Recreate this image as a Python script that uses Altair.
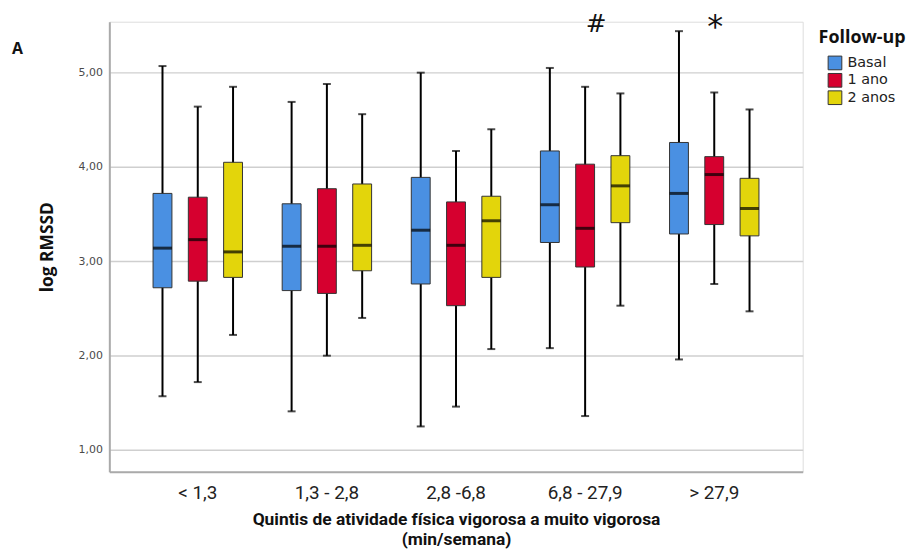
import altair as alt
import pandas as pd

cats = ["< 1,3", "1,3 - 2,8", "2,8 -6,8", "6,8 - 27,9", "> 27,9"]
fus = ["Basal", "1 ano", "2 anos"]
colors = ["#4A90E2", "#D6002F", "#E3D50B"]

# per quintile, per follow-up: [Basal, 1 ano, 2 anos]
whisk_lo = [[1.57, 1.72, 2.22], [1.41, 2.00, 2.40], [1.25, 1.46, 2.07], [2.08, 1.36, 2.53], [1.96, 2.76, 2.47]]
q1 = [[2.72, 2.79, 2.83], [2.69, 2.66, 2.90], [2.76, 2.53, 2.83], [3.20, 2.94, 3.41], [3.29, 3.39, 3.27]]
med = [[3.14, 3.23, 3.10], [3.16, 3.16, 3.17], [3.33, 3.17, 3.43], [3.60, 3.35, 3.80], [3.72, 3.92, 3.56]]
q3 = [[3.72, 3.68, 4.05], [3.61, 3.77, 3.82], [3.89, 3.63, 3.69], [4.17, 4.03, 4.12], [4.26, 4.11, 3.88]]
whisk_hi = [[5.07, 4.64, 4.85], [4.69, 4.88, 4.56], [5.00, 4.17, 4.40], [5.05, 4.85, 4.78], [5.44, 4.79, 4.61]]

hash_cat, hash_fu, hash_y = "6,8 - 27,9", "1 ano", 5.52
star_cat, star_fu, star_y = "> 27,9", "1 ano", 5.52

rows = []
for i, c in enumerate(cats):
    for j, f in enumerate(fus):
        rows.append(dict(cat=c, fu=f, lo=whisk_lo[i][j], q1=q1[i][j], med=med[i][j],
                         q3=q3[i][j], hi=whisk_hi[i][j]))
df = pd.DataFrame(rows)

lab_font = "Roboto"

xscale = alt.Scale(domain=cats, paddingInner=0, paddingOuter=0.185)
xaxis = alt.Axis(title=["Quintis de atividade física vigorosa a muito vigorosa", "(min/semana)"],
                 labelAngle=0, ticks=False, domainColor="#aaaaaa", domainWidth=2,
                 labelFont=lab_font, labelFontSize=19, labelColor="#222222", labelPadding=12,
                 titleFont=lab_font, titleFontSize=17.5, titleFontWeight="bold", titleColor="#111111",
                 titlePadding=8, titleLineHeight=20, grid=False)
x = alt.X("cat:N", sort=cats, scale=xscale, axis=xaxis)
xo_scale = alt.Scale(domain=fus, paddingInner=0, paddingOuter=0.33)
xo = alt.XOffset("fu:N", sort=fus, scale=xo_scale)

yscale = alt.Scale(domain=[0.77, 5.54], nice=False, zero=False)
yaxis = alt.Axis(title="log RMSSD", values=[1, 2, 3, 4, 5],
                 labelExpr="replace(format(datum.value, '.2f'), '.', ',')",
                 grid=True, gridColor="#cfcfcf", gridWidth=1.5, domainColor="#aaaaaa", domainWidth=2,
                 ticks=False, labelFont="DejaVu Sans", labelFontSize=11, labelColor="#4a4a4a",
                 labelPadding=7, titleFont="Open Sans", titleFontSize=17.5, titleFontWeight="bold",
                 titleColor="#111111", titlePadding=22)

def Y(field):
    return alt.Y(field, type="quantitative", scale=yscale, axis=yaxis)

base = alt.Chart(df)

whisk = base.mark_rule(color="black", strokeWidth=2).encode(x=x, xOffset=xo, y=Y("lo"), y2="hi:Q")
cap_lo = base.mark_tick(color="black", size=8, thickness=2).encode(x=x, xOffset=xo, y=Y("lo"))
cap_hi = base.mark_tick(color="black", size=8, thickness=2).encode(x=x, xOffset=xo, y=Y("hi"))
box = base.mark_bar(size=19, stroke="#333333", strokeWidth=1, opacity=1).encode(
    x=x, xOffset=xo, y=Y("q1"), y2="q3:Q",
    color=alt.Color("fu:N", sort=fus, scale=alt.Scale(domain=fus, range=colors),
                    legend=alt.Legend(title="Follow-up", orient="none", legendX=714, legendY=7,
                                      titleFont="Open Sans", titleFontSize=18, titleFontWeight="bold",
                                      titleColor="#111111", titlePadding=9, symbolType="square",
                                      symbolSize=190, symbolStrokeColor="#333333", symbolStrokeWidth=1,
                                      symbolOpacity=1, symbolOffset=9, labelFont="DejaVu Sans",
                                      labelFontSize=14.5, labelColor="#222222", rowPadding=-1.5,
                                      labelOffset=5)))
median = base.mark_tick(color="black", size=19, thickness=3).encode(x=x, xOffset=xo, y=Y("med"))

hash_mark = alt.Chart(pd.DataFrame({"t": ["#"], "cat": [hash_cat], "fu": [hash_fu], "y": [hash_y]})).mark_text(
    fontSize=25, font="DejaVu Sans", color="#111111", dx=11).encode(
    x=x, xOffset=alt.XOffset("fu:N", sort=fus, scale=xo_scale), y=Y("y"), text="t:N")
star_mark = alt.Chart(pd.DataFrame({"t": ["*"], "cat": [star_cat], "fu": [star_fu], "y": [star_y]})).mark_text(
    fontSize=32, font="DejaVu Sans", color="#111111", dx=1, baseline="top", dy=-12).encode(
    x=x, xOffset=alt.XOffset("fu:N", sort=fus, scale=xo_scale), y=Y("y"), text="t:N")

letter = alt.Chart(pd.DataFrame({"t": ["A"]})).mark_text(
    fontSize=16, fontWeight="bold", font="Open Sans", color="#111111", align="left", baseline="middle"
).encode(text="t:N", x=alt.value(-98), y=alt.value(27))

chart = alt.layer(whisk, cap_lo, cap_hi, box, median, hash_mark, star_mark, letter).properties(
    width=698, height=453,
    autosize=alt.AutoSizeParams(type="none"),
    padding={"left": 102, "top": 12, "right": 105, "bottom": 78},
).configure_view(stroke=None).configure(background="white")

chart.save("out.html", embed_options={"renderer": "svg", "actions": False})
